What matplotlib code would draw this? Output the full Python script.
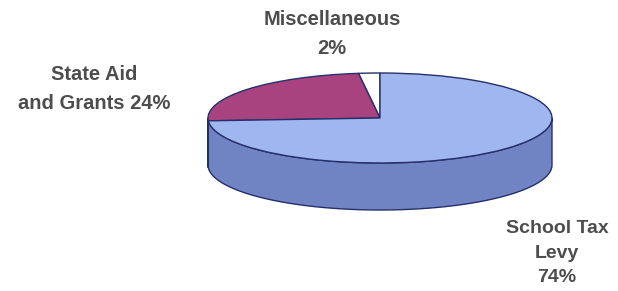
import numpy as np
import matplotlib
matplotlib.use("Agg")
import matplotlib.pyplot as plt
from matplotlib.patches import Wedge, Polygon
from matplotlib.transforms import Affine2D

# Data
categories = ["Miscellaneous", "State Aid\nand Grants", "School Tax\nLevy"]
values = [2, 24, 74]
top_colors = ["#FFFFFF", "#A8437F", "#9FB6EE"]
side_colors = ["#D8D8D8", "#7E2C5C", "#7084C4"]
label_texts = ["Miscellaneous\n2%", "State Aid\nand Grants 24%", "School Tax\nLevy\n74%"]

W, H = 618, 291
fig = plt.figure(figsize=(W / 100, H / 100), dpi=100)
ax = fig.add_axes([0, 0, 1, 1])
ax.set_xlim(0, W)
ax.set_ylim(0, H)
ax.axis("off")

cx, cy = 380, H - 118
rx, ry = 172, 45
depth = 47
edge = "#25306A"

# angles: start at 90 deg, counter-clockwise
total = sum(values)
start = 90.0
spans = []
for v in values:
    a = 360.0 * v / total
    spans.append((start, start + a))
    start += a

def norm_range(t1, t2):
    out = []
    for off in (0, -360, 360):
        a, b = t1 + off, t2 + off
        lo, hi = max(a, 180), min(b, 360)
        if hi > lo:
            out.append((lo, hi))
    return out

for (t1, t2), sc in zip(spans, side_colors):
    for lo, hi in norm_range(t1, t2):
        th = np.radians(np.linspace(lo, hi, 200))
        xt = cx + rx * np.cos(th)
        yt = cy + ry * np.sin(th)
        xb = xt[::-1]
        yb = (cy - depth + ry * np.sin(th))[::-1]
        pts = np.column_stack([np.concatenate([xt, xb]), np.concatenate([yt, yb])])
        ax.add_patch(Polygon(pts, closed=True, facecolor=sc, edgecolor=edge, lw=1.0, zorder=1))

tr = Affine2D().scale(rx, ry).translate(cx, cy) + ax.transData
for (t1, t2), tc in zip(spans, top_colors):
    w = Wedge((0, 0), 1, t1, t2, facecolor=tc, edgecolor=edge, lw=1.0, transform=tr, zorder=2)
    ax.add_patch(w)

font = dict(family=["Liberation Sans", "DejaVu Sans"], fontweight="bold", color="#4D4D4D",
            fontsize=14.5, ha="center", va="center", linespacing=1.7)
ax.text(332, H - 34, label_texts[0], **font)
ax.text(94, H - 89, label_texts[1], **font)
font3 = dict(font, linespacing=1.6, fontsize=14)
ax.text(557, H - 253, label_texts[2], **font3)

fig.savefig("out.png", dpi=100)
